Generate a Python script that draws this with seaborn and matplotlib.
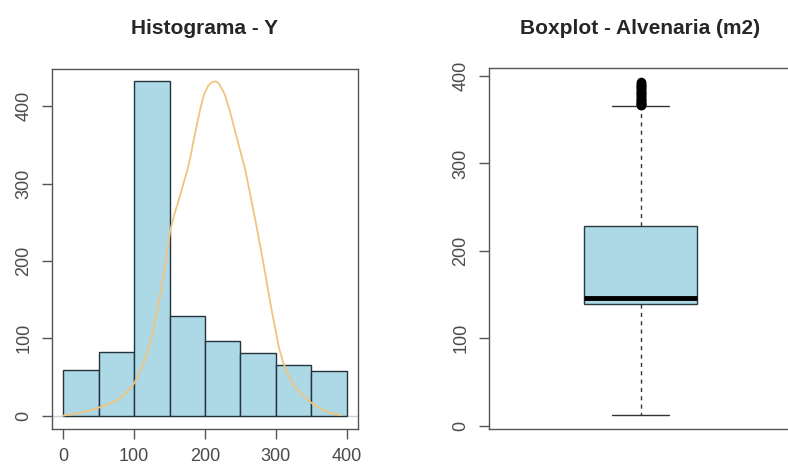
import matplotlib
matplotlib.use("Agg")
import matplotlib.pyplot as plt
import seaborn as sns

# histogram counts (bins of 50 from 0 to 400)
bin_edges = [0, 50, 100, 150, 200, 250, 300, 350, 400]
bin_counts = [59, 82, 432, 129, 96, 81, 66, 58]

# density curve (scaled to the count axis)
dens_x = [0, 5, 15, 30, 42, 52, 64, 76, 88, 100, 109, 118, 125, 132, 137,
          142, 147, 151, 157, 163, 169, 175, 180, 184, 189, 194, 199, 205,
          210, 215, 219, 222, 226, 229, 235, 241, 249, 257, 264, 271, 278,
          285, 290, 295, 300, 304, 310, 316, 325, 335, 343, 351, 362, 373,
          383, 392]
dens_y = [0, 1, 2, 5, 8, 11, 15, 20, 29, 42, 58, 80, 104, 132, 157,
          184, 213, 240, 261, 279, 298, 317, 337, 356, 378, 399, 416, 427,
          431, 432, 430, 425, 419, 412, 394, 373, 345, 317, 285, 253, 219,
          184, 157, 132, 109, 89, 70, 55, 40, 29, 22, 16, 10, 5,
          2, 1]

# boxplot summary (Alvenaria m2)
box_whislo = 12
box_q1 = 139
box_med = 146
box_q3 = 228
box_whishi = 366
box_outliers = [366.5, 367, 367.5, 368, 369, 369.5, 370, 371, 372, 373, 374,
                375, 376, 377, 378, 379, 380, 381, 382, 383, 384, 385, 386,
                387, 388, 389, 390, 391, 392, 393]

sns.set_style("white")
plt.rcParams["font.family"] = ["Liberation Sans", "DejaVu Sans"]

fig = plt.figure(figsize=(7.88, 4.69), dpi=100)
ax1 = fig.add_axes([0.066, 0.0853, 0.3883, 0.7676])
ax2 = fig.add_axes([0.6206, 0.0847, 0.3845, 0.7697])

frame = "#555555"
txt = "#4a4a4a"

# histogram
centers = [(bin_edges[i] + bin_edges[i + 1]) / 2 for i in range(len(bin_counts))]
ax1.axhline(0, color="#d0d0d0", lw=1, zorder=0)
sns.histplot(x=centers, weights=bin_counts, bins=bin_edges, color="#ADD8E6",
             edgecolor="#24343c", linewidth=1.0, alpha=1, ax=ax1)
sns.lineplot(x=dens_x, y=dens_y, color="#F0C47E", lw=1.3, ax=ax1)
ax1.set_xlim(-16, 416)
ax1.set_ylim(-17.2, 448)
ax1.set_xticks([0, 100, 200, 300, 400])
ax1.set_yticks([0, 100, 200, 300, 400])
ax1.set_xlabel("")
ax1.set_ylabel("")
ax1.set_title("Histograma - Y", fontsize=15, fontweight="bold", pad=25)

# boxplot
stats = [{"whislo": box_whislo, "q1": box_q1, "med": box_med, "q3": box_q3,
          "whishi": box_whishi, "fliers": box_outliers}]
ax2.bxp(stats, positions=[0], widths=0.4, capwidths=0.2, patch_artist=True,
        boxprops=dict(facecolor="#ADD8E6", edgecolor="#2a3a42", linewidth=1.0),
        medianprops=dict(color="black", linewidth=3.5),
        whiskerprops=dict(color="#333333", linestyle=(0, (3, 3)), linewidth=1.0),
        capprops=dict(color="#333333", linewidth=1.0),
        flierprops=dict(marker="o", markersize=5.5, markerfacecolor="none",
                        markeredgecolor="black", markeredgewidth=1.4))
ax2.set_xlim(-0.54, 0.54)
ax2.set_ylim(-4.1, 408.8)
ax2.set_xticks([])
ax2.set_yticks([0, 100, 200, 300, 400])
ax2.set_title("Boxplot - Alvenaria (m2)", fontsize=15, fontweight="bold", pad=25)

for ax in (ax1, ax2):
    for s in ax.spines.values():
        s.set_color(frame)
        s.set_linewidth(1.0)
        s.set_visible(True)
    ax.tick_params(axis="both", direction="out", length=7, width=1,
                   color=frame, labelcolor=txt, labelsize=13, pad=7,
                   left=True, bottom=True)
    for lab in ax.get_yticklabels():
        lab.set_rotation(90)
        lab.set_va("center")

fig.savefig("out.png", dpi=100)
